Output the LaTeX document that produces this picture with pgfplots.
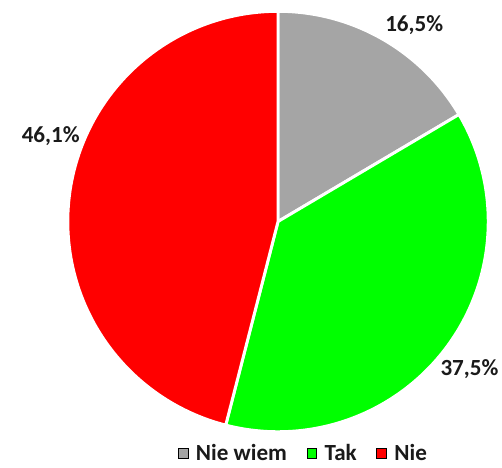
\documentclass[border=0pt]{standalone}
\usepackage{pgfplots}
\usepackage{pgfplotstable}
\usepgfplotslibrary{polar}
\pgfplotsset{compat=1.18}
\usepackage{fontspec}
\setmainfont{Carlito}
\definecolor{cGray}{HTML}{A5A5A5}
\definecolor{cGreen}{HTML}{00FF00}
\definecolor{cRed}{HTML}{FF0000}
\definecolor{cText}{HTML}{1A1A1A}
\pgfplotstableread{
label value
NieWiem 16.5
Tak 37.5
Nie 46.1
}\piedata
\begin{document}
\pgfplotstablegetelem{0}{value}\of\piedata \let\vA\pgfplotsretval
\pgfplotstablegetelem{1}{value}\of\piedata \let\vB\pgfplotsretval
\pgfplotstablegetelem{2}{value}\of\piedata \let\vC\pgfplotsretval
\pgfmathsetmacro\aA{90}
\pgfmathsetmacro\aB{90-3.6*\vA}
\pgfmathsetmacro\aC{\aB-3.6*\vB}
\pgfmathsetmacro\aD{-270}
\begin{tikzpicture}
\path (0,0) rectangle (502bp,476bp);
\begin{polaraxis}[
  overlay,
  at={(274bp,250.5bp)}, anchor=origin,
  scale only axis, width=428bp, height=428bp,
  hide axis, clip=false, ymin=0, ymax=1, xmin=0, xmax=360,
  legend columns=3,
  legend image code/.code={\fill[#1] (0bp,-5bp) rectangle (10bp,5bp);},
  legend style={at={(0.2617,-0.0713)}, anchor=south west, draw=none, fill=none,
    inner sep=0pt, outer sep=0pt,
    font=\fontsize{23.5bp}{28bp}\selectfont\bfseries, text=cText,
    nodes={inner sep=0pt},
    /tikz/every odd column/.append style={column sep=8bp},
    /tikz/every even column/.append style={column sep=20bp}},
]
\addplot[forget plot, fill=cGray, draw=white, line width=3bp, line join=round, domain=\aB:\aA, samples=60] {1} -- (axis cs:0,0) -- cycle;
\addplot[forget plot, fill=cGreen, draw=white, line width=3bp, line join=round, domain=\aC:\aB, samples=120] {1} -- (axis cs:0,0) -- cycle;
\addplot[forget plot, fill=cRed, draw=white, line width=3bp, line join=round, domain=\aD:\aC, samples=150] {1} -- (axis cs:0,0) -- cycle;
\addlegendimage{fill=cGray}
\addlegendentry{Nie wiem}
\addlegendimage{fill=cGreen}
\addlegendentry{Tak}
\addlegendimage{fill=cRed}
\addlegendentry{Nie}
\node[font=\fontsize{23.5bp}{28bp}\selectfont\bfseries, text=cText] at (axis cs:55.2,1.135) {16,5\%};
\node[font=\fontsize{23.5bp}{28bp}\selectfont\bfseries, text=cText] at (axis cs:-37.7,1.151) {37,5\%};
\node[font=\fontsize{23.5bp}{28bp}\selectfont\bfseries, text=cText] at (axis cs:159.3,1.156) {46,1\%};
\end{polaraxis}
\end{tikzpicture}
\end{document}
